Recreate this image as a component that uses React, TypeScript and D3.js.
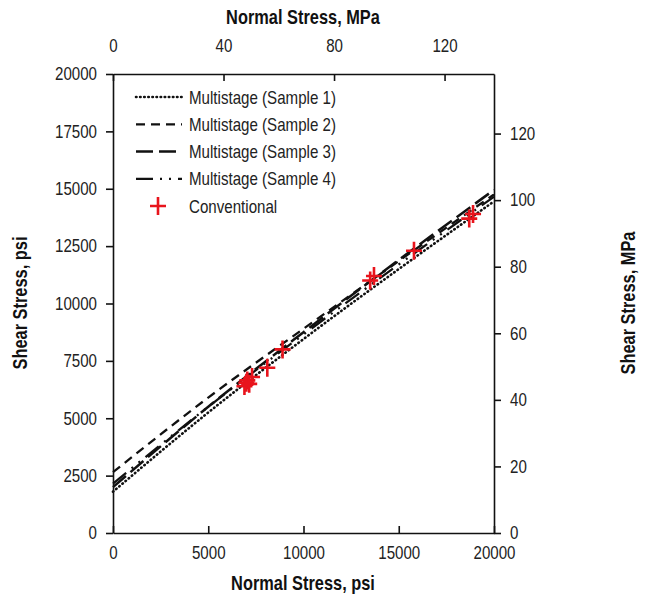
import React, { useEffect, useRef } from "react";
import * as d3 from "d3";

// normal stress grid (psi) used for the envelopes
const envX = [0, 5000, 10000, 15000, 20000];
const sample1 = [1800, 5250, 8450, 11500, 14450];
const sample2 = [2650, 5900, 8900, 11850, 14750];
const sample3 = [2000, 5500, 8750, 11900, 14950];
const sample4 = [2150, 5500, 8650, 11700, 14650];

// conventional triaxial results (psi)
const convNormal = [6900, 7000, 7050, 7150, 7300, 8100, 8900, 13500, 13700, 15800, 18700, 18900];
const convShear = [6400, 6550, 6650, 6500, 6800, 7200, 8000, 11000, 11200, 12300, 13700, 13900];

const seriesNames = [
  "Multistage (Sample 1)",
  "Multistage (Sample 2)",
  "Multistage (Sample 3)",
  "Multistage (Sample 4)",
];
const psiTicks = [0, 5000, 10000, 15000, 20000];
const psiYTicks = [0, 2500, 5000, 7500, 10000, 12500, 15000, 17500, 20000];
const mpaXTicks = [0, 40, 80, 120];
const mpaYTicks = [0, 20, 40, 60, 80, 100, 120];
const PSI_PER_MPA = 145.038;

export default function App() {
  const ref = useRef<SVGSVGElement>(null);

  useEffect(() => {
    const svg = d3.select(ref.current);
    svg.selectAll("*").remove();

    const left = 113, right = 494, top = 74, bottom = 533;
    const x = d3.scaleLinear().domain([0, 20000]).range([left, right]);
    const y = d3.scaleLinear().domain([0, 20000]).range([bottom, top]);
    const xm = d3.scaleLinear().domain([0, 20000 / PSI_PER_MPA]).range([left, right]);
    const ym = d3.scaleLinear().domain([0, 20000 / PSI_PER_MPA]).range([bottom, top]);

    const font = "Liberation Sans, Arial, sans-serif";
    const sx = 0.84; // the original text looks squeezed sideways
    svg.style("font-family", font);

    const styles = [
      { dash: "0.5 3.6", w: 2.6, cap: "round" },
      { dash: "9 6", w: 2.3, cap: "butt" },
      { dash: "17 6", w: 2.5, cap: "butt" },
      { dash: "17 7 2 7 2 7", w: 2.3, cap: "butt" },
    ];
    const data = [sample1, sample2, sample3, sample4];

    const line = d3.line<number>()
      .x((d, i) => x(envX[i]))
      .y(d => y(d))
      .curve(d3.curveMonotoneX);

    const plot = svg.append("g");
    data.forEach((s, k) => {
      plot.append("path")
        .attr("d", line(s))
        .attr("fill", "none")
        .attr("stroke", "#111")
        .attr("stroke-width", styles[k].w)
        .attr("stroke-dasharray", styles[k].dash)
        .attr("stroke-linecap", styles[k].cap);
    });

    const plus = (g: any, cx: number, cy: number) => {
      g.append("path")
        .attr("d", `M${cx - 8},${cy}H${cx + 8}M${cx},${cy - 9}V${cy + 9}`)
        .attr("stroke", "#e8141c")
        .attr("stroke-width", 2.6);
    };
    convNormal.forEach((n, i) => plus(plot, x(n), y(convShear[i])));

    // axes
    const fmt = d3.format("d");
    const bottomAxis = svg.append("g").attr("transform", `translate(0,${bottom})`)
      .call(d3.axisBottom(x).tickValues(psiTicks).tickSizeInner(-7).tickSizeOuter(0).tickPadding(13.5).tickFormat(fmt));
    const topAxis = svg.append("g").attr("transform", `translate(0,${top})`)
      .call(d3.axisTop(xm).tickValues(mpaXTicks).tickSizeInner(-7).tickSizeOuter(0).tickPadding(22.5).tickFormat(fmt));
    const leftAxis = svg.append("g").attr("transform", `translate(${left},0)`)
      .call(d3.axisLeft(y).tickValues(psiYTicks).tickSizeInner(7).tickSizeOuter(0).tickFormat(fmt));
    const rightAxis = svg.append("g").attr("transform", `translate(${right},0)`)
      .call(d3.axisRight(ym).tickValues(mpaYTicks).tickSizeInner(7).tickSizeOuter(0).tickFormat(fmt));

    [bottomAxis, topAxis, leftAxis, rightAxis].forEach(g =>
      g.selectAll("text").attr("font-size", 18).attr("fill", "#222").style("font-family", font));
    bottomAxis.selectAll("text").attr("transform", `scale(${sx},1)`);
    topAxis.selectAll("text").attr("transform", `scale(${sx},1)`);
    leftAxis.selectAll("text").attr("x", 0).attr("transform", `translate(-16,0) scale(${sx},1)`);
    rightAxis.selectAll("text").attr("x", 0).attr("transform", `translate(16,0) scale(${sx},1)`);
    svg.selectAll(".domain, .tick line").attr("stroke", "#111").attr("stroke-width", 1.6);

    // legend
    const lg = svg.append("g");
    const legText = (t: string, ly: number) =>
      lg.append("text")
        .attr("transform", `translate(189,${ly + 6.5}) scale(${sx},1)`)
        .attr("font-size", 18).attr("fill", "#222").text(t);
    seriesNames.forEach((name, k) => {
      const ly = 97 + k * 27.3;
      lg.append("line")
        .attr("x1", 136).attr("x2", 182).attr("y1", ly).attr("y2", ly)
        .attr("stroke", "#111")
        .attr("stroke-width", styles[k].w)
        .attr("stroke-dasharray", styles[k].dash)
        .attr("stroke-linecap", styles[k].cap);
      legText(name, ly);
    });
    plus(lg, 158, 206);
    legText("Conventional", 206);

    // axis titles
    const title = (t: string, tx: number, ty: number, rot = 0) =>
      svg.append("text")
        .attr("transform", `translate(${tx},${ty}) rotate(${rot}) scale(${sx},1)`)
        .attr("text-anchor", "middle")
        .attr("font-size", 19.5)
        .attr("font-weight", "bold")
        .attr("fill", "#111")
        .text(t);
    title("Normal Stress, MPa", 303, 24);
    title("Normal Stress, psi", 303, 590);
    title("Shear Stress, psi", 27, 303, -90);
    title("Shear Stress, MPa", 635, 303, -90);
  }, []);

  return (
    <svg ref={ref} width={645} height={598}
      style={{ position: "absolute", left: 0, top: 0, background: "#fff" }} />
  );
}
